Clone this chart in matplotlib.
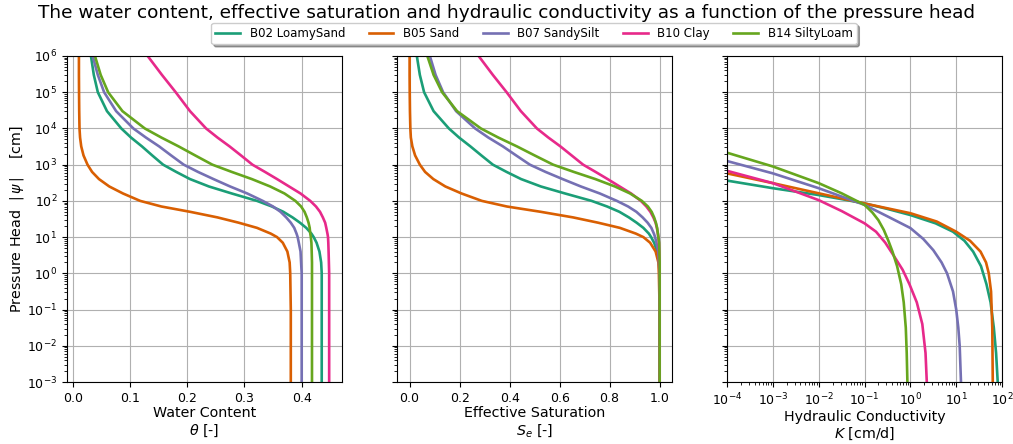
import matplotlib
matplotlib.use('Agg')
import matplotlib.pyplot as plt
from matplotlib.ticker import LogLocator, NullFormatter

# soils and colours (Dark2)
soils = ['B02 LoamySand', 'B05 Sand', 'B07 SandySilt', 'B10 Clay', 'B14 SiltyLoam']
colors = ['#1b9e77', '#d95f02', '#7570b3', '#e7298a', '#66a61e']

# pressure head [cm] used for water content and saturation curves
head = [1e6, 3e5, 1e5, 3e4, 1e4, 5600, 3200, 1800, 1000, 630, 400, 250, 160, 100,
        70, 50, 35, 25, 18, 12.5, 10, 7, 4, 2, 1, 0.1, 0.001]

# water content [-]
theta_b02 = [0.032, 0.037, 0.044, 0.06, 0.085, 0.102, 0.121, 0.139, 0.158, 0.181,
             0.205, 0.238, 0.278, 0.322, 0.348, 0.368, 0.384, 0.397, 0.408, 0.417,
             0.421, 0.426, 0.431, 0.434, 0.435, 0.435, 0.435]
theta_b05 = [0.011, 0.011, 0.0112, 0.0115, 0.012, 0.013, 0.015, 0.019, 0.026, 0.034,
             0.046, 0.064, 0.088, 0.118, 0.155, 0.205, 0.253, 0.29, 0.322, 0.346,
             0.357, 0.367, 0.375, 0.379, 0.38, 0.381, 0.381]
theta_b07 = [0.035, 0.044, 0.055, 0.076, 0.106, 0.128, 0.151, 0.172, 0.194, 0.219,
             0.246, 0.275, 0.305, 0.332, 0.35, 0.363, 0.373, 0.381, 0.387, 0.391,
             0.393, 0.395, 0.398, 0.399, 0.4, 0.4, 0.4]
theta_b10 = [0.131, 0.156, 0.18, 0.205, 0.233, 0.253, 0.274, 0.294, 0.314, 0.336,
             0.357, 0.378, 0.398, 0.415, 0.425, 0.432, 0.437, 0.441, 0.443, 0.445,
             0.446, 0.4465, 0.447, 0.4475, 0.448, 0.448, 0.448]
theta_b14 = [0.039, 0.049, 0.062, 0.087, 0.126, 0.155, 0.185, 0.214, 0.244, 0.278,
             0.313, 0.345, 0.37, 0.389, 0.399, 0.405, 0.409, 0.412, 0.414, 0.415,
             0.416, 0.417, 0.4175, 0.418, 0.418, 0.418, 0.418]

# effective saturation [-]
se_b02 = [0.029, 0.041, 0.058, 0.096, 0.157, 0.198, 0.243, 0.287, 0.333, 0.388,
          0.446, 0.525, 0.622, 0.728, 0.79, 0.839, 0.877, 0.908, 0.935, 0.957,
          0.966, 0.978, 0.99, 0.998, 1.0, 1.0, 1.0]
se_b05 = [0.0, 0.0, 0.0005, 0.0014, 0.003, 0.005, 0.011, 0.022, 0.041, 0.062,
          0.095, 0.143, 0.208, 0.289, 0.389, 0.524, 0.654, 0.754, 0.841, 0.905,
          0.935, 0.962, 0.984, 0.995, 0.997, 1.0, 1.0]
se_b07 = [0.081, 0.104, 0.134, 0.186, 0.262, 0.315, 0.373, 0.426, 0.481, 0.544,
          0.612, 0.685, 0.761, 0.829, 0.874, 0.907, 0.932, 0.952, 0.967, 0.977,
          0.982, 0.987, 0.995, 0.997, 1.0, 1.0, 1.0]
se_b10 = [0.276, 0.333, 0.388, 0.445, 0.509, 0.555, 0.603, 0.648, 0.694, 0.744,
          0.792, 0.84, 0.886, 0.925, 0.947, 0.963, 0.975, 0.984, 0.989, 0.993,
          0.995, 0.997, 0.998, 0.999, 1.0, 1.0, 1.0]
se_b14 = [0.071, 0.096, 0.13, 0.19, 0.285, 0.355, 0.429, 0.5, 0.574, 0.657,
          0.743, 0.821, 0.882, 0.929, 0.953, 0.968, 0.978, 0.985, 0.99, 0.993,
          0.995, 0.998, 0.999, 1.0, 1.0, 1.0, 1.0]

# hydraulic conductivity [cm/d], each with its own pressure heads (curves enter at K = 1e-4)
k_head_b02 = [363, 224, 145, 112, 85, 60, 40.7, 24, 14.1, 7.94, 3.98, 1.58, 0.5,
              0.158, 0.0316, 0.0063, 0.001]
k_b02 = [1e-4, 1e-3, 0.01, 0.0316, 0.1, 0.316, 1.0, 3.55, 8.5, 15.1, 23.4, 34.7,
         45.7, 56.2, 66.1, 74.1, 80.4]
k_head_b05 = [575, 309, 162, 85, 45.7, 26.9, 14.1, 7.94, 3.98, 2.0, 1.0, 0.316,
              0.0316, 0.001]
k_b05 = [1e-4, 1e-3, 0.01, 0.1, 1.0, 3.76, 10, 20, 33.9, 44.7, 51.3, 57.5, 61.2, 62.7]
k_head_b07 = [1259, 575, 224, 77.6, 36.3, 17.8, 8.91, 4.37, 2.0, 1.0, 0.316, 0.1,
              0.0316, 0.01, 0.001]
k_b07 = [1e-4, 1e-3, 0.01, 0.1, 0.331, 1.0, 1.91, 3.16, 4.79, 6.31, 8.51, 10, 11.1,
         11.9, 12.7]
k_head_b10 = [676, 309, 105, 52.5, 24, 14.1, 7.08, 3.16, 1.26, 0.5, 0.158, 0.0398,
              0.0063, 0.001]
k_b10 = [1e-4, 1e-3, 0.01, 0.0316, 0.1, 0.178, 0.282, 0.427, 0.676, 0.955, 1.38,
         1.82, 2.14, 2.28]
k_head_b14 = [2138, 891, 309, 162, 77.6, 47.9, 29.5, 15.8, 7.94, 3.98, 1.58, 0.5,
              0.158, 0.0316, 0.0063, 0.001]
k_b14 = [1e-4, 1e-3, 0.01, 0.0316, 0.1, 0.148, 0.2, 0.263, 0.331, 0.407, 0.513,
         0.631, 0.716, 0.794, 0.832, 0.861]

thetas = [theta_b02, theta_b05, theta_b07, theta_b10, theta_b14]
ses = [se_b02, se_b05, se_b07, se_b10, se_b14]
k_heads = [k_head_b02, k_head_b05, k_head_b07, k_head_b10, k_head_b14]
ks = [k_b02, k_b05, k_b07, k_b10, k_b14]

fig = plt.figure(figsize=(10.13, 4.44), dpi=100)
ax1 = fig.add_axes([0.0661, 0.1396, 0.2715, 0.7343])
ax2 = fig.add_axes([0.392, 0.1396, 0.2715, 0.7343], sharey=ax1)
ax3 = fig.add_axes([0.7177, 0.1396, 0.2715, 0.7343], sharey=ax1)

lines = []
for i in range(len(soils)):
    ln, = ax1.plot(thetas[i], head, color=colors[i], lw=1.9, label=soils[i])
    ax2.plot(ses[i], head, color=colors[i], lw=1.9)
    ax3.plot(ks[i], k_heads[i], color=colors[i], lw=1.9)
    lines.append(ln)

ax1.set_yscale('log')
ax1.set_ylim(1e-3, 1e6)
ax1.yaxis.set_major_locator(LogLocator(base=10, numticks=12))
ax1.yaxis.set_minor_locator(LogLocator(base=10, subs=range(2, 10), numticks=12))
ax1.yaxis.set_minor_formatter(NullFormatter())

ax1.set_xlim(-0.0099, 0.4704)
ax1.set_xticks([0.0, 0.1, 0.2, 0.3, 0.4])
ax2.set_xlim(-0.05, 1.05)
ax2.set_xticks([0.0, 0.2, 0.4, 0.6, 0.8, 1.0])
ax3.set_xscale('log')
ax3.set_xlim(1e-4, 1e2)
ax3.xaxis.set_major_locator(LogLocator(base=10, numticks=10))
ax3.xaxis.set_minor_locator(LogLocator(base=10, subs=range(2, 10), numticks=10))
ax3.xaxis.set_minor_formatter(NullFormatter())

for ax in (ax1, ax2, ax3):
    ax.grid(True, which='major', color='#b0b0b0', lw=0.8)
    ax.tick_params(labelsize=9)
ax2.tick_params(labelleft=False)
ax3.tick_params(labelleft=False)

ax1.set_ylabel(r'Pressure Head  $|\,\psi\,|$    [cm]', fontsize=10.3)
ax1.yaxis.set_label_coords(-0.15, 0.5)
ax1.set_xlabel('Water Content\n' + r'$\theta$ [-]', fontsize=10.3, labelpad=1)
ax2.set_xlabel('Effective Saturation\n' + r'$S_e$ [-]', fontsize=10.3, labelpad=1)
ax3.set_xlabel('Hydraulic Conductivity\n' + r'$K$ [cm/d]', fontsize=10.3, labelpad=1)

fig.suptitle('The water content, effective saturation and hydraulic conductivity '
             'as a function of the pressure head', fontsize=13.3, y=0.99)
fig.legend(lines, soils, loc='upper center', bbox_to_anchor=(0.527, 0.962), ncol=5,
           shadow=True, fontsize=8.5, handlelength=2.1, borderpad=0.35)

fig.savefig('out.png', dpi=100)
